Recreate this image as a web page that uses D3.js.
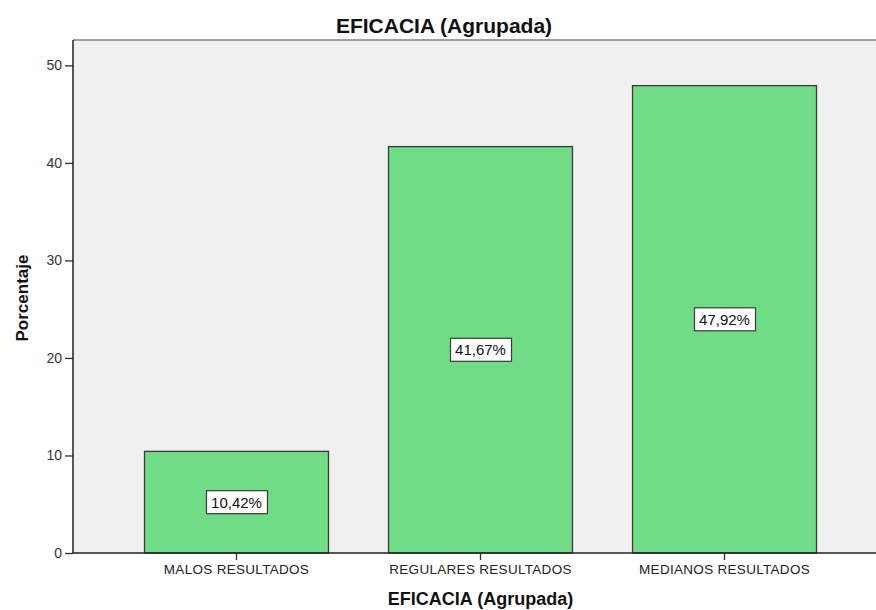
<!DOCTYPE html>
<html>
<head>
<meta charset="utf-8">
<script src="https://cdn.jsdelivr.net/npm/d3@7"></script>
<style>
  body { margin: 0; background: #fff; }
  text { font-family: Arial, "Liberation Sans", sans-serif; }
</style>
</head>
<body>
<div id="container"></div>
<script>
/* DATA */
const categories = ["MALOS RESULTADOS", "REGULARES RESULTADOS", "MEDIANOS RESULTADOS"];
const percentages = [10.42, 41.67, 47.92];
const valueLabels = ["10,42%", "41,67%", "47,92%"];
const yTicks = [0, 10, 20, 30, 40, 50];

/* CONSTANTS */
const W = 876, H = 610;
const plot = {left: 73, right: 888, top: 40, bottom: 553};

const svg = d3.select("#container")
  .append("svg")
    .attr("width", W)
    .attr("height", H);

/* SCALES */
const x = d3.scaleBand()
  .domain(categories)
  .range([plot.left, plot.right])
  .paddingInner(0.246)
  .paddingOuter(0.293);

const y = d3.scaleLinear()
  .domain([0, 52.6])
  .range([plot.bottom, plot.top]);

/* PLOT BACKGROUND */
svg.append("rect")
  .attr("x", plot.left)
  .attr("y", plot.top)
  .attr("width", plot.right - plot.left)
  .attr("height", plot.bottom - plot.top)
  .attr("fill", "#f0f0f0");

// top border
svg.append("line")
  .attr("x1", plot.left).attr("x2", plot.right)
  .attr("y1", plot.top).attr("y2", plot.top)
  .attr("stroke", "#808080")
  .attr("stroke-width", 1.5);

/* BARS */
const data = categories.map((c, i) => ({cat: c, value: percentages[i], label: valueLabels[i]}));

svg.selectAll("rect.bar")
  .data(data)
  .join("rect")
  .attr("class", "bar")
  .attr("x", d => x(d.cat))
  .attr("y", d => y(d.value))
  .attr("width", x.bandwidth())
  .attr("height", d => y(0) - y(d.value))
  .attr("fill", "#70dd86")
  .attr("stroke", "#3a3a3a")
  .attr("stroke-width", 1.3);

/* VALUE LABELS */
const lab = svg.selectAll("g.vlabel")
  .data(data)
  .join("g")
  .attr("class", "vlabel")
  .attr("transform", d => `translate(${x(d.cat) + x.bandwidth() / 2},${(y(d.value) + y(0)) / 2})`);

lab.append("rect")
  .attr("x", -30).attr("y", -11.5)
  .attr("width", 61).attr("height", 23)
  .attr("fill", "#fff")
  .attr("stroke", "#3a3a3a")
  .attr("stroke-width", 1.2);

lab.append("text")
  .attr("text-anchor", "middle")
  .attr("dy", "0.36em")
  .style("font-size", "15px")
  .attr("fill", "#111")
  .text(d => d.label);

/* Y AXIS */
const yAxis = svg.append("g")
  .attr("transform", `translate(${plot.left},0)`)
  .call(d3.axisLeft(y).tickValues(yTicks).tickSize(8).tickPadding(3));
yAxis.select(".domain").remove();
yAxis.selectAll(".tick line").attr("stroke", "#333").attr("stroke-width", 1.3);
yAxis.selectAll(".tick text")
  .style("font-size", "14px")
  .attr("fill", "#333");

svg.append("line")
  .attr("x1", plot.left).attr("x2", plot.left)
  .attr("y1", plot.top).attr("y2", plot.bottom)
  .attr("stroke", "#222")
  .attr("stroke-width", 1.5);

/* X AXIS */
const xAxis = svg.append("g")
  .attr("transform", `translate(0,${plot.bottom})`)
  .call(d3.axisBottom(x).tickSize(7).tickPadding(4).tickSizeOuter(0));
xAxis.select(".domain").remove();
xAxis.selectAll(".tick line").attr("stroke", "#333").attr("stroke-width", 1.3);
xAxis.selectAll(".tick text")
  .style("font-size", "13.5px")
  .style("letter-spacing", "0.3px")
  .attr("fill", "#222");

svg.append("line")
  .attr("x1", plot.left).attr("x2", plot.right)
  .attr("y1", plot.bottom).attr("y2", plot.bottom)
  .attr("stroke", "#222")
  .attr("stroke-width", 1.5);

/* TITLES */
svg.append("text")
  .attr("x", 444)
  .attr("y", 33)
  .attr("text-anchor", "middle")
  .style("font-size", "21px")
  .attr("font-weight", "bold")
  .attr("fill", "#111")
  .text("EFICACIA (Agrupada)");

svg.append("text")
  .attr("x", (plot.left + plot.right) / 2)
  .attr("y", 605)
  .attr("text-anchor", "middle")
  .style("font-size", "18px")
  .attr("font-weight", "bold")
  .attr("fill", "#111")
  .text("EFICACIA (Agrupada)");

svg.append("text")
  .attr("transform", "translate(28,298) rotate(-90)")
  .attr("text-anchor", "middle")
  .style("font-size", "17px")
  .attr("font-weight", "bold")
  .attr("fill", "#111")
  .text("Porcentaje");
</script>
</body>
</html>
